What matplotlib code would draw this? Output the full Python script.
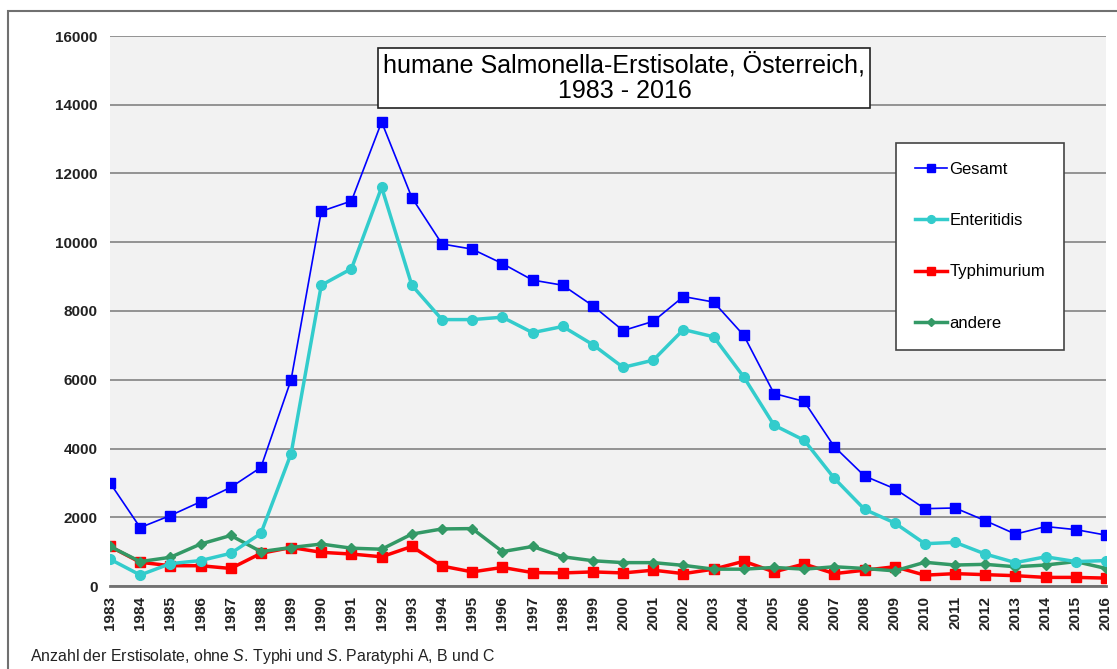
import matplotlib
matplotlib.use("Agg")
from matplotlib import pyplot as plt
from matplotlib.patches import Rectangle

plt.rcParams['font.family'] = ['Liberation Sans', 'DejaVu Sans']
plt.rcParams['mathtext.fontset'] = 'custom'
plt.rcParams['mathtext.it'] = 'Liberation Sans:italic'
plt.rcParams['mathtext.rm'] = 'Liberation Sans'

years = list(range(1983, 2017))

gesamt = [3000, 1700, 2050, 2450, 2870, 3450, 6000, 10900, 11200, 13500,
          11300, 9950, 9800, 9380, 8900, 8750, 8150, 7430, 7700, 8420,
          8260, 7290, 5600, 5370, 4050, 3200, 2830, 2250, 2270, 1900,
          1510, 1730, 1640, 1480]

enteritidis = [780, 320, 650, 740, 950, 1530, 3850, 8750, 9230, 11600,
               8750, 7750, 7750, 7820, 7370, 7550, 7020, 6360, 6570, 7460,
               7250, 6080, 4680, 4240, 3130, 2230, 1835, 1230, 1270, 930,
               680, 850, 710, 740]

typhimurium = [1150, 690, 590, 590, 510, 950, 1120, 980, 930, 850,
               1150, 580, 410, 540, 390, 380, 410, 380, 460, 360,
               490, 720, 410, 640, 360, 460, 560, 315, 360, 330,
               300, 250, 250, 230]

andere = [1150, 710, 835, 1220, 1470, 1000, 1120, 1220, 1100, 1070,
          1510, 1660, 1670, 1000, 1150, 850, 735, 680, 680, 600,
          490, 490, 540, 490, 560, 510, 440, 690, 610, 630,
          560, 610, 710, 510]

fig = plt.figure(figsize=(11.17, 6.69), dpi=100)
W, H = 1117, 669

# outer frame of the chart area
fig.patches.append(Rectangle((8 / W, -0.1), 1.2, (669 - 11) / H + 0.1,
                             transform=fig.transFigure, fill=False,
                             edgecolor='#707070', linewidth=1.5))

ax = fig.add_axes([110 / W, (H - 586) / H, (1106 - 110) / W, (586 - 36) / H])
ax.set_facecolor('#F2F2F2')

ax.plot(years, gesamt, color='#0000FF', linewidth=1.2, marker='s',
        markersize=7, label='Gesamt', zorder=5)
ax.plot(years, enteritidis, color='#33CCCC', linewidth=2.5, marker='o',
        markersize=7, label='Enteritidis', zorder=4)
ax.plot(years, typhimurium, color='#FF0000', linewidth=2.5, marker='s',
        markersize=7.5, label='Typhimurium', zorder=3)
ax.plot(years, andere, color='#339966', linewidth=2.5, marker='D',
        markersize=5, label='andere', zorder=3)

ax.set_xlim(1983, 2016)
ax.set_ylim(0, 16000)
ax.set_yticks(range(0, 16001, 2000))
ax.set_xticks(years)
ax.set_xticklabels([str(y) for y in years], rotation=90, fontsize=11,
                   fontweight='bold')
for lab in ax.get_yticklabels():
    lab.set_fontsize(11)
    lab.set_fontweight('bold')
ax.tick_params(axis='both', length=0, colors='#222222')
ax.tick_params(axis='y', pad=9)
ax.tick_params(axis='x', pad=7)
ax.grid(axis='y', color='#8C8C8C', linewidth=1.3)
ax.set_axisbelow(True)
for side in ['top', 'right', 'left']:
    ax.spines[side].set_visible(False)
ax.spines['bottom'].set_color('#707070')
ax.spines['bottom'].set_linewidth(2)
ax.spines['bottom'].set_zorder(6)

ax.text(0.5165, 0.970, 'humane Salmonella-Erstisolate, Österreich,\n1983 - 2016',
        transform=ax.transAxes, ha='center', va='top', fontsize=18,
        linespacing=1.05,
        bbox=dict(boxstyle='square,pad=0.2', facecolor='white',
                  edgecolor='#222222', linewidth=1.2), zorder=10)

leg = ax.legend(loc='upper left', bbox_to_anchor=(896 / W, (H - 143) / H),
                bbox_transform=fig.transFigure, fancybox=False, shadow=False,
                fontsize=12, labelspacing=2.17, borderpad=1.15,
                handlelength=1.9, handletextpad=0.15, markerscale=0.8,
                borderaxespad=0, framealpha=1, edgecolor='#444444')
leg.get_frame().set_linewidth(1.2)
leg.set_zorder(10)

fig.text(30 / W, (H - 656) / H,
         r'Anzahl der Erstisolate, ohne $\it{S}$. Typhi und $\it{S}$. Paratyphi A, B und C',
         fontsize=11.4, va='center', ha='left', color='#222222')

fig.savefig('out.png', dpi=100)
